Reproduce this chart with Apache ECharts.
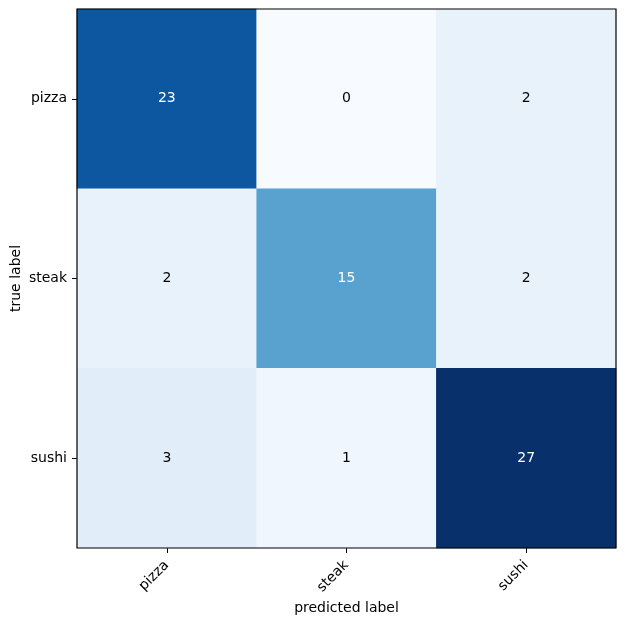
<!DOCTYPE html>
<html><head><meta charset="utf-8">
<script src="https://cdn.jsdelivr.net/npm/echarts@6/dist/echarts.min.js"></script>
<style>html,body{margin:0;padding:0;background:#fff}#c{width:626px;height:624px}</style>
</head><body><div id="c"></div>
<script>
const predictedLabels = ['pizza', 'steak', 'sushi'];
const trueLabels = ['pizza', 'steak', 'sushi'];
const matrixRows = [
  [23, 0, 2],
  [2, 15, 2],
  [3, 1, 27]
];
const blues = ['#f7fbff','#deebf7','#c6dbef','#9ecae1','#6baed6','#4292c6','#2171b5','#08519c','#08306b'];

const maxVal = Math.max(...matrixRows.flat());
const data = [];
matrixRows.forEach((row, i) => row.forEach((v, j) => {
  data.push({value: [j, i, v], label: {color: v > maxVal / 2 ? '#ffffff' : '#000000'}});
}));

const font = 'DejaVu Sans';
const fs = 14;
const chart = echarts.init(document.getElementById('c'), null, {renderer: 'canvas'});
chart.setOption({
  animation: false,
  backgroundColor: '#ffffff',
  grid: {left: 77, top: 9, width: 539, height: 539, containLabel: false, outerBoundsMode: 'none', show: true, borderColor: '#000', borderWidth: 1.2, backgroundColor: 'transparent', z: 10},
  xAxis: {
    type: 'category', data: predictedLabels, position: 'bottom',
    name: 'predicted label', nameLocation: 'middle', nameGap: 53, nameMoveOverlap: false,
    nameTextStyle: {fontFamily: font, fontSize: fs, color: '#000'},
    axisLine: {show: false},
    axisTick: {show: true, alignWithLabel: true, length: 5, lineStyle: {color: '#000'}},
    axisLabel: {rotate: 45, fontFamily: font, fontSize: fs, color: '#000', margin: 15, interval: 0},
    splitLine: {show: false}, splitArea: {show: false}
  },
  yAxis: {
    type: 'category', data: trueLabels, inverse: true,
    name: 'true label', nameLocation: 'middle', nameGap: 54, nameRotate: 90, nameMoveOverlap: false,
    nameTextStyle: {fontFamily: font, fontSize: fs, color: '#000'},
    axisLine: {show: false},
    axisTick: {show: true, alignWithLabel: true, length: 5, lineStyle: {color: '#000'}},
    axisLabel: {fontFamily: font, fontSize: fs, color: '#000', margin: 10, interval: 0},
    splitLine: {show: false}, splitArea: {show: false}
  },
  visualMap: {show: false, type: 'continuous', min: 0, max: maxVal, dimension: 2, inRange: {color: blues}},
  series: [{
    type: 'heatmap', data: data,
    label: {show: true, fontFamily: font, fontSize: fs, formatter: p => p.value[2]},
    itemStyle: {borderWidth: 0},
    emphasis: {disabled: true}
  }]
});
</script></body></html>
